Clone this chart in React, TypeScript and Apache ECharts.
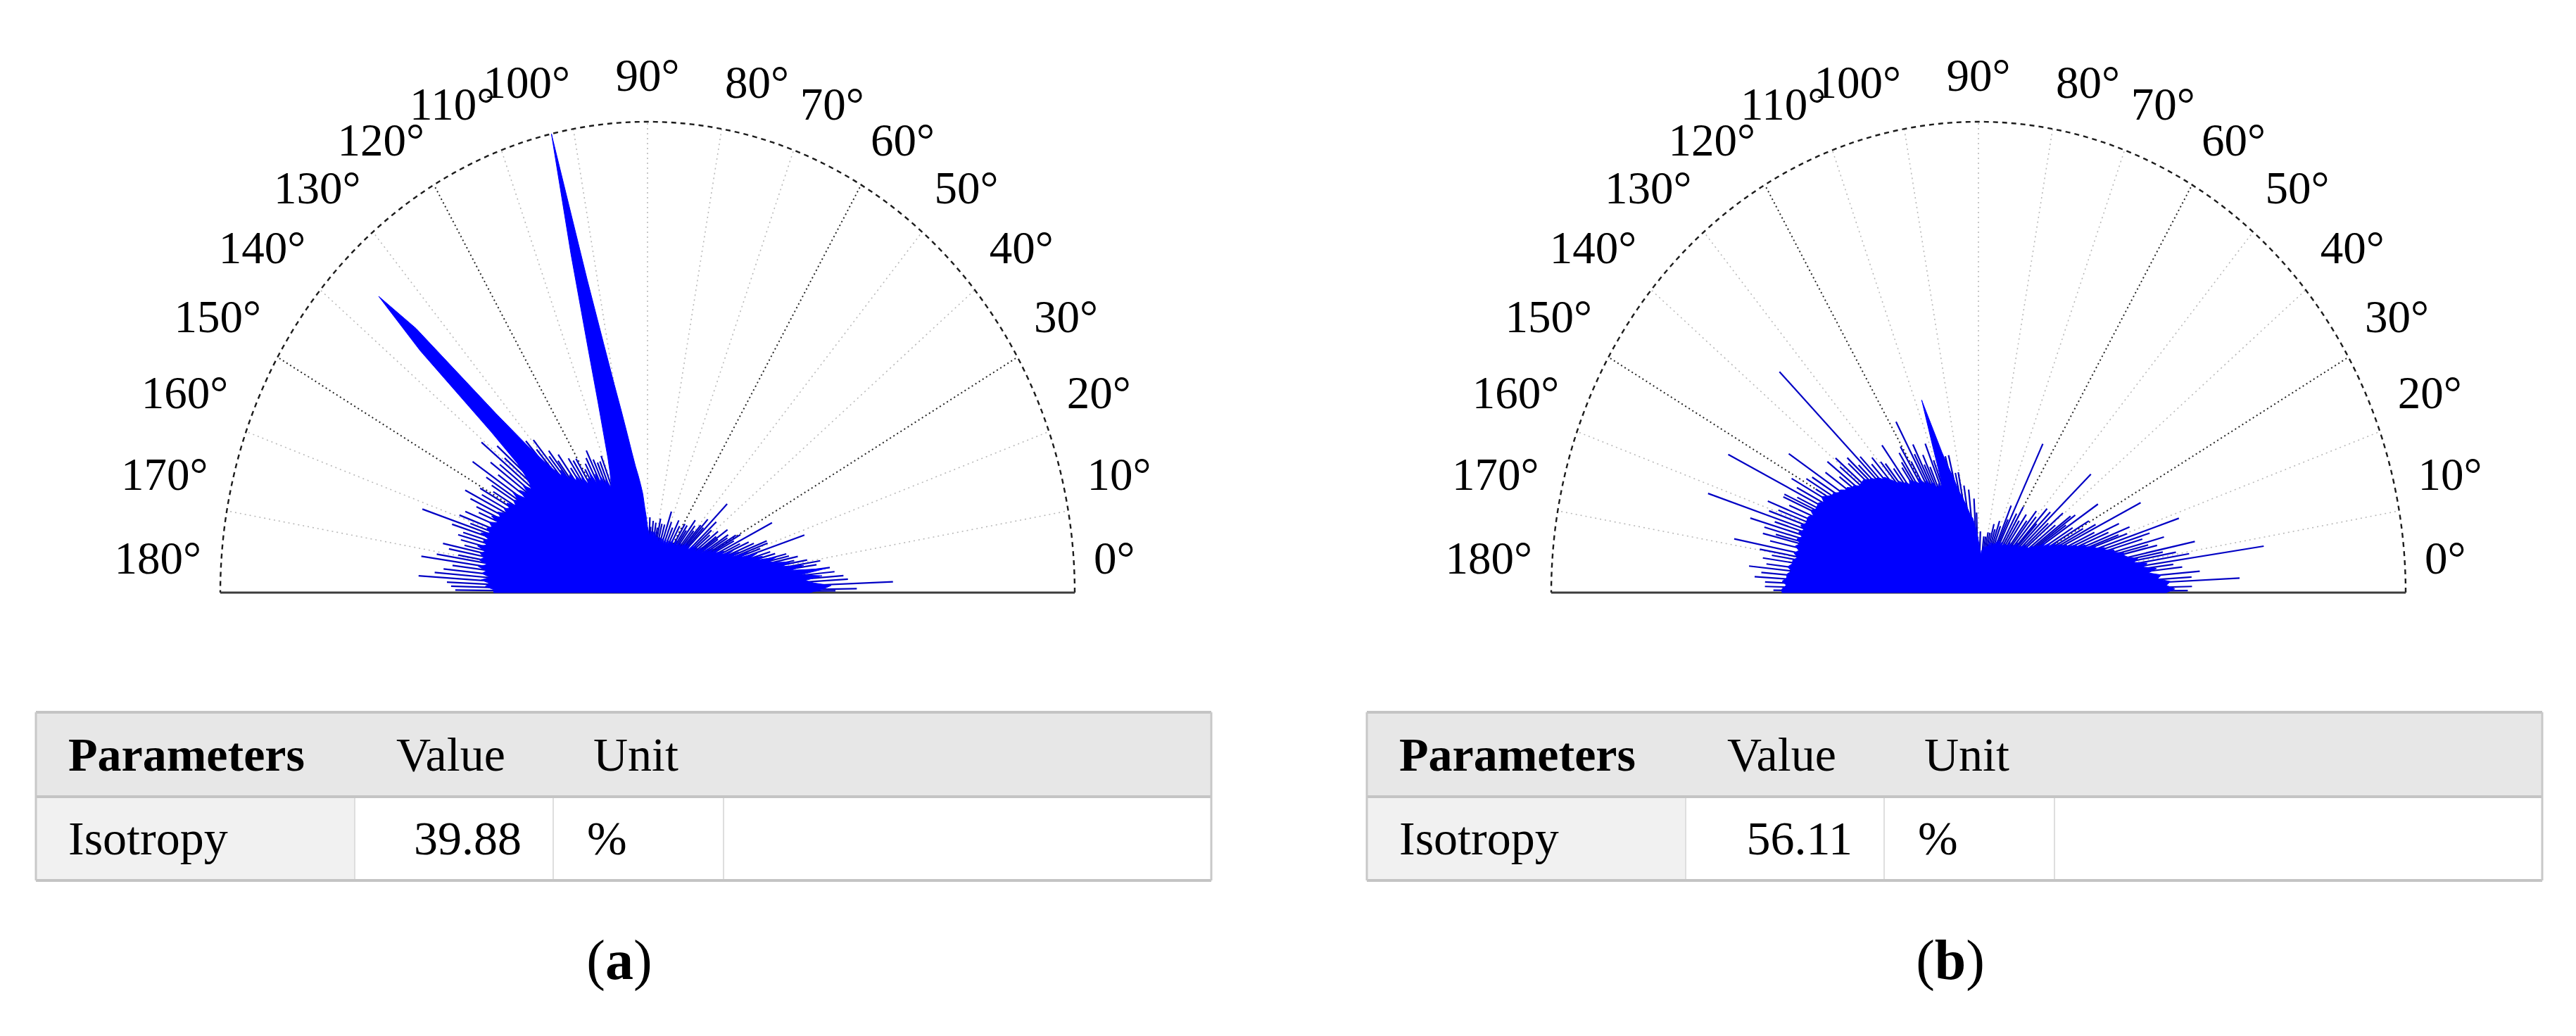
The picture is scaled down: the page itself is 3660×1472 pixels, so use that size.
import React, { useEffect, useRef } from "react";
import * as echarts from "echarts";

// ---------------- data ----------------
const TICK_ANGLES = [0, 10, 20, 30, 40, 50, 60, 70, 80, 90, 100, 110, 120, 130, 140, 150, 160, 170, 180];
const TICK_LABELS = ["0°", "10°", "20°", "30°", "40°", "50°", "60°", "70°", "80°", "90°", "100°", "110°", "120°", "130°", "140°", "150°", "160°", "170°", "180°"];
const MAJOR_GRID_ANGLES = [30, 60, 120, 150];

// normalised radius of the filled rose, one value per degree (0..180)
const ROSE_A = [
  0.38, 0.41, 0.43, 0.39, 0.37, 0.41, 0.36, 0.42, 0.34, 0.37,
  0.32, 0.34, 0.31, 0.29, 0.31, 0.27, 0.28, 0.25, 0.27, 0.23,
  0.25, 0.21, 0.23, 0.20, 0.22, 0.19, 0.20, 0.19, 0.18, 0.19,
  0.17, 0.18, 0.16, 0.18, 0.15, 0.17, 0.15, 0.16, 0.14, 0.15,
  0.14, 0.15, 0.14, 0.15, 0.13, 0.14, 0.13, 0.14, 0.13, 0.14,
  0.13, 0.13, 0.12, 0.13, 0.12, 0.13, 0.12, 0.12, 0.13, 0.12,
  0.12, 0.12, 0.13, 0.12, 0.12, 0.11, 0.12, 0.12, 0.11, 0.12,
  0.12, 0.11, 0.12, 0.12, 0.11, 0.12, 0.12, 0.11, 0.12, 0.12,
  0.12, 0.12, 0.13, 0.12, 0.13, 0.12, 0.13, 0.13, 0.12, 0.13,
  0.14, 0.16, 0.18, 0.21, 0.23, 0.25, 0.27, 0.30, 0.34, 0.39,
  0.45, 0.54, 0.68, 1.00, 0.74, 0.54, 0.42, 0.35, 0.30, 0.27,
  0.25, 0.24, 0.26, 0.25, 0.27, 0.26, 0.28, 0.26, 0.29, 0.27,
  0.28, 0.27, 0.29, 0.28, 0.30, 0.29, 0.31, 0.30, 0.33, 0.32,
  0.34, 0.37, 0.42, 0.52, 0.78, 0.89, 0.74, 0.50, 0.41, 0.38,
  0.36, 0.35, 0.37, 0.35, 0.37, 0.35, 0.38, 0.36, 0.37, 0.36,
  0.38, 0.37, 0.38, 0.37, 0.39, 0.38, 0.40, 0.38, 0.40, 0.39,
  0.40, 0.39, 0.41, 0.39, 0.40, 0.39, 0.41, 0.39, 0.40, 0.39,
  0.40, 0.38, 0.40, 0.38, 0.39, 0.37, 0.39, 0.37, 0.38, 0.36,
  0.36,
];
const ROSE_B = [
  0.44, 0.46, 0.44, 0.45, 0.42, 0.43, 0.40, 0.42, 0.39, 0.40,
  0.37, 0.38, 0.36, 0.35, 0.35, 0.33, 0.33, 0.31, 0.31, 0.29,
  0.29, 0.27, 0.27, 0.25, 0.25, 0.23, 0.23, 0.22, 0.22, 0.20,
  0.21, 0.19, 0.20, 0.18, 0.19, 0.17, 0.17, 0.16, 0.16, 0.15,
  0.15, 0.15, 0.14, 0.15, 0.14, 0.14, 0.13, 0.14, 0.13, 0.14,
  0.13, 0.13, 0.12, 0.13, 0.12, 0.13, 0.12, 0.12, 0.12, 0.12,
  0.12, 0.11, 0.12, 0.12, 0.11, 0.12, 0.12, 0.11, 0.12, 0.11,
  0.11, 0.11, 0.10, 0.11, 0.11, 0.10, 0.11, 0.10, 0.10, 0.10,
  0.10, 0.09, 0.10, 0.09, 0.09, 0.09, 0.08, 0.09, 0.09, 0.10,
  0.11, 0.12, 0.13, 0.14, 0.15, 0.16, 0.16, 0.17, 0.18, 0.19,
  0.20, 0.21, 0.22, 0.24, 0.26, 0.28, 0.31, 0.36, 0.43, 0.33,
  0.26, 0.24, 0.25, 0.24, 0.25, 0.26, 0.25, 0.27, 0.26, 0.27,
  0.28, 0.27, 0.28, 0.28, 0.29, 0.28, 0.29, 0.29, 0.30, 0.30,
  0.31, 0.32, 0.33, 0.33, 0.34, 0.34, 0.35, 0.35, 0.36, 0.36,
  0.36, 0.36, 0.37, 0.37, 0.38, 0.38, 0.39, 0.39, 0.40, 0.40,
  0.41, 0.42, 0.41, 0.42, 0.42, 0.42, 0.43, 0.42, 0.43, 0.43,
  0.43, 0.44, 0.43, 0.44, 0.43, 0.44, 0.43, 0.44, 0.43, 0.44,
  0.43, 0.44, 0.44, 0.45, 0.44, 0.45, 0.45, 0.46, 0.45, 0.46,
  0.46,
];

// thin isolated spikes: [angle in degrees, normalised length]
const SPIKES_A = [
  [0.5, 0.44], [1.0, 0.49], [2.3, 0.575], [3.5, 0.47], [4.5, 0.46], [5.8, 0.44], [7.1, 0.43],
  [8.5, 0.4], [9.5, 0.41], [10.5, 0.38], [11.2, 0.35], [12.3, 0.36], [13.2, 0.34], [14.2, 0.335],
  [15.5, 0.31], [16.8, 0.3], [18.4, 0.387], [19.5, 0.28], [20.5, 0.3], [21.5, 0.3], [22.8, 0.27],
  [24.4, 0.26], [25.6, 0.24], [27.0, 0.327], [28.5, 0.23], [29.5, 0.25], [30.5, 0.24], [31.8, 0.22],
  [33.0, 0.225], [34.5, 0.2], [35.5, 0.23], [36.5, 0.2], [38.2, 0.21], [40.0, 0.19], [41.5, 0.2],
  [43.0, 0.22], [45.3, 0.265], [46.5, 0.19], [47.8, 0.21], [49.0, 0.19], [50.5, 0.17], [52.0, 0.18],
  [54.0, 0.19], [55.5, 0.16], [57.0, 0.17], [59.0, 0.17], [62.0, 0.16], [64.5, 0.17], [67.0, 0.15],
  [69.5, 0.16], [72.0, 0.181], [74.5, 0.15], [77.0, 0.15], [79.0, 0.16], [80.5, 0.14], [82.5, 0.15],
  [85.0, 0.153], [87.0, 0.14], [88.0, 0.16],
  [110.5, 0.31], [111.8, 0.3], [113.0, 0.3], [114.2, 0.31], [115.4, 0.334], [116.7, 0.32],
  [118.0, 0.31], [119.2, 0.3], [120.5, 0.33], [121.8, 0.33], [123.0, 0.34], [124.2, 0.32],
  [125.5, 0.36], [126.8, 0.35], [127.5, 0.38], [128.5, 0.37], [129.5, 0.42], [130.5, 0.4],
  [131.5, 0.43], [138.5, 0.47], [139.5, 0.44], [140.6, 0.503], [141.8, 0.44], [143.0, 0.46],
  [144.4, 0.43], [145.8, 0.495], [147.0, 0.45], [148.0, 0.43], [149.3, 0.42], [150.5, 0.45],
  [151.8, 0.44], [153.0, 0.479], [154.3, 0.46], [155.5, 0.44], [156.7, 0.43], [158.0, 0.46],
  [159.5, 0.47], [160.5, 0.44], [161.4, 0.556], [162.4, 0.48], [163.5, 0.45], [164.5, 0.46],
  [165.6, 0.451], [166.8, 0.44], [167.7, 0.49], [168.7, 0.474], [169.8, 0.45], [170.6, 0.5],
  [171.7, 0.535], [172.8, 0.46], [174.0, 0.48], [175.1, 0.5], [176.2, 0.537], [177.3, 0.47],
  [178.3, 0.46], [179.3, 0.45],
];
const SPIKES_B = [
  [0.5, 0.49], [1.5, 0.5], [2.9, 0.612], [3.8, 0.5], [5.0, 0.52], [6.5, 0.48], [7.5, 0.46],
  [8.4, 0.675], [9.5, 0.5], [10.5, 0.47], [11.3, 0.44], [12.1, 0.518], [13.5, 0.43], [14.3, 0.41],
  [15.2, 0.45], [16.5, 0.4], [17.5, 0.42], [18.6, 0.495], [19.8, 0.37], [20.5, 0.35], [21.5, 0.38],
  [22.8, 0.33], [24.0, 0.36], [25.2, 0.3], [26.7, 0.425], [27.8, 0.31], [29.0, 0.28], [30.5, 0.3],
  [32.0, 0.26], [33.9, 0.337], [35.0, 0.25], [36.0, 0.28], [37.0, 0.27], [38.5, 0.23], [40.5, 0.26],
  [42.0, 0.22], [43.7, 0.364], [45.5, 0.24], [47.0, 0.2], [48.0, 0.24], [50.0, 0.21], [52.0, 0.22],
  [53.5, 0.19], [56.0, 0.2], [58.0, 0.18], [60.0, 0.21], [62.0, 0.19], [64.5, 0.35], [66.0, 0.17],
  [67.5, 0.2], [70.0, 0.15], [72.0, 0.16], [74.0, 0.14], [76.0, 0.15], [78.0, 0.13], [80.0, 0.13],
  [82.0, 0.12], [84.0, 0.12], [88.0, 0.13],
  [91.5, 0.17], [93.0, 0.2], [96.0, 0.22], [98.5, 0.23], [100.5, 0.26], [102.0, 0.26], [103.5, 0.3],
  [105.0, 0.3], [110.5, 0.3], [111.5, 0.34], [113.0, 0.29], [114.0, 0.32], [115.0, 0.3],
  [116.0, 0.35], [117.0, 0.33], [118.0, 0.411], [119.5, 0.32], [120.5, 0.36], [122.0, 0.35],
  [123.0, 0.33], [124.0, 0.32], [125.8, 0.386], [127.0, 0.33], [128.5, 0.35], [129.5, 0.36],
  [131.0, 0.38], [132.5, 0.37], [133.8, 0.4], [134.8, 0.661], [136.0, 0.39], [137.0, 0.42],
  [138.0, 0.41], [139.5, 0.44], [140.5, 0.42], [141.8, 0.45], [142.9, 0.408], [144.5, 0.44],
  [146.4, 0.533], [147.8, 0.46], [149.0, 0.47], [150.0, 0.44], [151.0, 0.5], [152.3, 0.48],
  [153.4, 0.655], [154.5, 0.47], [155.3, 0.5], [156.0, 0.5], [157.3, 0.48], [158.5, 0.53],
  [159.5, 0.5], [160.5, 0.52], [161.6, 0.667], [162.5, 0.5], [163.5, 0.557], [164.5, 0.52],
  [165.4, 0.49], [166.0, 0.52], [167.3, 0.5], [168.7, 0.583], [169.8, 0.52], [170.7, 0.49],
  [171.7, 0.51], [173.0, 0.5], [174.0, 0.54], [175.2, 0.51], [176.3, 0.525], [177.4, 0.5],
  [178.5, 0.5], [179.4, 0.48],
];

const TABLE_HEADERS = ["Parameters", "Value", "Unit"];
const PARAM_NAME = "Isotropy";
const ISOTROPY_VALUES = ["39.88", "56.11"];
const UNIT = "%";
const PANEL_LETTERS = ["a", "b"];

// ---------------- layout ----------------
const W = 3660;
const H = 1472;
const PANEL_DX = 1891;
const POLAR_BOX = { left: 313, top: 173, width: 1214, height: 669 };
const LABEL_RX = 1.0445;
const LABEL_RY = 1.0254;
const LABEL_DY = -49;
const FONT = "'Liberation Serif', 'Times New Roman', Times, serif";
const BLUE = "#0000ff";

const rad = (d: number) => (d * Math.PI) / 180;

function polarSeries(p: number, rose: number[], spikes: number[][]) {
  const base = {
    type: "custom",
    coordinateSystem: "cartesian2d",
    xAxisIndex: p,
    yAxisIndex: p,
    clip: false,
    silent: true,
  };
  const gridData = TICK_ANGLES.filter((a) => a > 0 && a < 180).map((a) => [Math.cos(rad(a)), Math.sin(rad(a)), a]);
  return [
    {
      ...base,
      z: 1,
      data: gridData,
      renderItem: (_: any, api: any) => {
        const o = api.coord([0, 0]);
        const e = api.coord([api.value(0), api.value(1)]);
        const major = MAJOR_GRID_ANGLES.indexOf(api.value(2)) >= 0;
        return {
          type: "line",
          shape: { x1: o[0], y1: o[1], x2: e[0], y2: e[1] },
          style: {
            stroke: major ? "#262626" : "#b9b9b9",
            lineWidth: major ? 2 : 1.6,
            lineDash: major ? [2, 4] : [2, 5],
          },
        };
      },
    },
    {
      ...base,
      z: 2,
      data: [[0, 0]],
      renderItem: (_: any, api: any) => {
        const pts: number[][] = [];
        for (let a = 0; a <= 180; a += 1) pts.push(api.coord([Math.cos(rad(a)), Math.sin(rad(a))]));
        return {
          type: "polyline",
          shape: { points: pts },
          style: { stroke: "#1c1c1c", lineWidth: 2.4, lineDash: [7, 6], fill: null },
        };
      },
    },
    {
      ...base,
      z: 2,
      data: [[0, 0]],
      renderItem: (_: any, api: any) => {
        const a = api.coord([-1, 0]);
        const b = api.coord([1, 0]);
        return {
          type: "line",
          shape: { x1: a[0], y1: a[1], x2: b[0], y2: b[1] },
          style: { stroke: "#3c3c3c", lineWidth: 3 },
        };
      },
    },
    {
      ...base,
      z: 3,
      data: spikes.map(([a, r]) => [r * Math.cos(rad(a)), r * Math.sin(rad(a))]),
      renderItem: (_: any, api: any) => {
        const o = api.coord([0, 0]);
        const e = api.coord([api.value(0), api.value(1)]);
        return {
          type: "line",
          shape: { x1: o[0], y1: o[1], x2: e[0], y2: e[1] },
          style: { stroke: "#0000c4", lineWidth: 2.2 },
        };
      },
    },
    {
      ...base,
      z: 4,
      data: [[0, 0]],
      renderItem: (_: any, api: any) => {
        const pts: number[][] = [api.coord([0, 0])];
        rose.forEach((r, i) => {
          pts.push(api.coord([r * Math.cos(rad(i)), r * Math.sin(rad(i))]));
        });
        return {
          type: "polygon",
          shape: { points: pts },
          style: { fill: BLUE, stroke: BLUE, lineWidth: 1 },
        };
      },
    },
    {
      ...base,
      z: 5,
      data: TICK_ANGLES.map((a) => [LABEL_RX * Math.cos(rad(a)), LABEL_RY * Math.sin(rad(a)), a]),
      renderItem: (params: any, api: any) => {
        const pt = api.coord([api.value(0), api.value(1)]);
        const a = api.value(2);
        const align = a < 90 ? "left" : a > 90 ? "right" : "center";
        return {
          type: "text",
          x: pt[0],
          y: pt[1] + LABEL_DY,
          style: {
            text: TICK_LABELS[params.dataIndex],
            fontSize: 65,
            fontFamily: FONT,
            fill: "#000",
            textFill: "#000",
            align,
            textAlign: align,
            verticalAlign: "middle",
            textVerticalAlign: "middle",
          },
        };
      },
    },
  ];
}

function textEl(x: number, y: number, text: string, align: string, opts: any = {}) {
  return {
    type: "text",
    x,
    y,
    z: 10,
    style: {
      text,
      fontSize: 68,
      fontFamily: FONT,
      fill: "#000",
      textFill: "#000",
      align,
      textAlign: align,
      verticalAlign: "middle",
      textVerticalAlign: "middle",
      ...opts,
    },
  };
}

function panelGraphics(p: number) {
  const ox = p * PANEL_DX;
  const L = 51 + ox;
  const R = 1721 + ox;
  const T = 1012;
  const M = 1132;
  const B = 1251;
  const cols = [504, 786, 1028].map((x) => x + ox);
  const border = { stroke: "#c4c4c4", lineWidth: 4 };
  const els: any[] = [
    { type: "rect", z: 5, shape: { x: L, y: T, width: R - L, height: M - T }, style: { fill: "#e7e7e7" } },
    { type: "rect", z: 5, shape: { x: L, y: M, width: R - L, height: B - M }, style: { fill: "#ffffff" } },
    { type: "rect", z: 5, shape: { x: L, y: M, width: cols[0] - L, height: B - M }, style: { fill: "#f1f1f1" } },
    ...cols.map((x) => ({
      type: "line",
      z: 6,
      shape: { x1: x, y1: M, x2: x, y2: B },
      style: { stroke: "#dedede", lineWidth: 2 },
    })),
    { type: "line", z: 7, shape: { x1: L, y1: T, x2: R, y2: T }, style: border },
    { type: "line", z: 7, shape: { x1: L, y1: M, x2: R, y2: M }, style: border },
    { type: "line", z: 7, shape: { x1: L, y1: B, x2: R, y2: B }, style: border },
    { type: "line", z: 7, shape: { x1: L, y1: T, x2: L, y2: B }, style: { stroke: "#c8c8c8", lineWidth: 3 } },
    { type: "line", z: 7, shape: { x1: R, y1: T, x2: R, y2: B }, style: { stroke: "#c8c8c8", lineWidth: 3 } },
    textEl(97 + ox, 1072, TABLE_HEADERS[0], "left", { fontWeight: "bold" }),
    textEl(563 + ox, 1072, TABLE_HEADERS[1], "left"),
    textEl(843 + ox, 1072, TABLE_HEADERS[2], "left"),
    textEl(97 + ox, 1191, PARAM_NAME, "left"),
    textEl(741 + ox, 1191, ISOTROPY_VALUES[p], "right"),
    textEl(834 + ox, 1191, UNIT, "left"),
    {
      type: "text",
      x: 880 + ox,
      y: 1364,
      z: 10,
      style: {
        text: `{p|(}{b|${PANEL_LETTERS[p]}}{p|)}`,
        align: "center",
        textAlign: "center",
        verticalAlign: "middle",
        textVerticalAlign: "middle",
        fill: "#000",
        textFill: "#000",
        rich: {
          p: { fontSize: 80, fontFamily: FONT, fontWeight: "normal", fill: "#000", textFill: "#000" },
          b: { fontSize: 80, fontFamily: FONT, fontWeight: "bold", fill: "#000", textFill: "#000" },
        },
      },
    },
  ];
  return els;
}

export default function App() {
  const ref = useRef<HTMLDivElement>(null);
  useEffect(() => {
    document.body.style.margin = "0";
    const chart = echarts.init(ref.current as HTMLDivElement, undefined, { renderer: "svg", width: W, height: H });
    const option: any = {
      animation: false,
      backgroundColor: "#ffffff",
      grid: [0, 1].map((p) => ({
        left: POLAR_BOX.left + p * PANEL_DX,
        top: POLAR_BOX.top,
        width: POLAR_BOX.width,
        height: POLAR_BOX.height,
        containLabel: false,
      })),
      xAxis: [0, 1].map((p) => ({ gridIndex: p, type: "value", min: -1, max: 1, show: false })),
      yAxis: [0, 1].map((p) => ({ gridIndex: p, type: "value", min: 0, max: 1, show: false })),
      series: [...polarSeries(0, ROSE_A, SPIKES_A), ...polarSeries(1, ROSE_B, SPIKES_B)],
      graphic: { elements: [...panelGraphics(0), ...panelGraphics(1)] },
    };
    chart.setOption(option);
    return () => chart.dispose();
  }, []);
  return (
    <div
      ref={ref}
      style={{ position: "absolute", left: 0, top: 0, width: W, height: H, background: "#ffffff" }}
    />
  );
}
